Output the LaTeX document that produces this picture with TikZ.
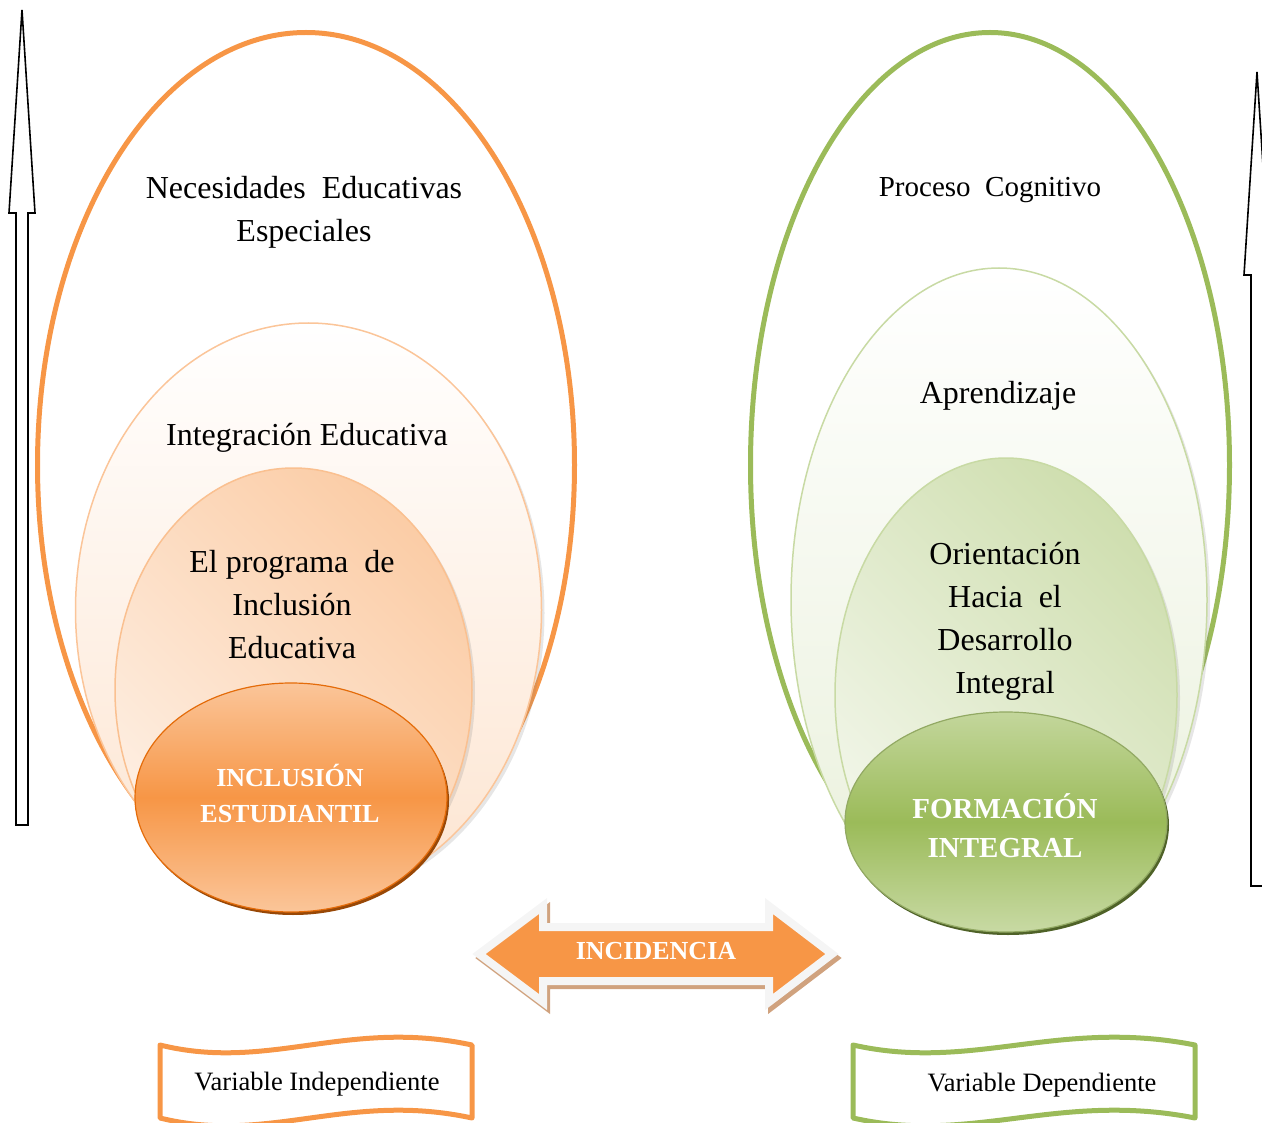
\documentclass[tikz,border=0pt]{standalone}
\usepackage{fontspec}
\setmainfont{Liberation Serif}
\usetikzlibrary{shapes.geometric,shadows}
\definecolor{naranja}{HTML}{F79646}
\definecolor{naranjaosc}{HTML}{E46C0A}
\definecolor{cafe}{HTML}{984807}
\definecolor{verde}{HTML}{9BBB59}
\definecolor{verdeosc}{HTML}{77933C}
\definecolor{musgo}{HTML}{4F6228}
\definecolor{sombra}{RGB}{208,162,126}

\begin{document}
\begin{tikzpicture}[x=1pt, y=-1pt,
  elipse/.style={ellipse, inner sep=0pt},
  texto/.style={font=\fontsize{32}{43}\selectfont, align=center},
  negrita/.style={font=\bfseries\fontsize{26}{36}\selectfont, text=white, align=center},
  flecha/.style={draw=black, line width=1.6pt, fill=white}]
\useasboundingbox (0,0) rectangle (1262,1123);

% flechas verticales
\foreach \x/\a/\b/\c in {22/10/213/825, 1257/72/275/886}
  \draw[flecha] (\x,\a)--(\x+13,\b)--(\x+6,\b)--(\x+6,\c)--(\x-6,\c)--(\x-6,\b)--(\x-13,\b)--cycle;

% variable independiente
\node[elipse, draw=naranja, line width=5pt, minimum width=537pt, minimum height=865pt] (nee) at (306,465) {};
\node[elipse, draw=naranja!55, line width=1.5pt, top color=white, bottom color=naranja!25,
  minimum width=466pt, minimum height=574pt,
  drop shadow={opacity=.2, shadow xshift=3pt, shadow yshift=-3pt}] (integ) at (308.5,610) {};
\node[elipse, draw=naranja!60, line width=1.5pt, bottom color=naranja!15, top color=naranja!48, shading angle=-45,
  minimum width=357pt, minimum height=444pt,
  drop shadow={opacity=.2, shadow xshift=3pt, shadow yshift=-3pt}] (prog) at (293.5,690) {};
\node[elipse, draw=naranjaosc, line width=1.2pt, top color=naranja!55, bottom color=naranja!55, middle color=naranja,
  minimum width=312pt, minimum height=229pt,
  drop shadow={fill=cafe, opacity=1, shadow xshift=2pt, shadow yshift=-3pt}] (incl) at (291,797.5) {};

% variable dependiente
\node[elipse, draw=verde, line width=5pt, minimum width=479pt, minimum height=865pt] (proc) at (990,465) {};
\node[elipse, draw=verde!55, line width=1.5pt, top color=white, bottom color=verde!22,
  minimum width=416pt, minimum height=664pt,
  drop shadow={opacity=.2, shadow xshift=3pt, shadow yshift=-3pt}] (apre) at (999,600) {};
\node[elipse, draw=verde!55, line width=1.5pt, bottom color=verde!12, top color=verde!48, shading angle=-45,
  minimum width=342pt, minimum height=474pt,
  drop shadow={opacity=.2, shadow xshift=3pt, shadow yshift=-3pt}] (orie) at (1006,695) {};
\node[elipse, draw=verdeosc!80, line width=1.2pt, top color=verde!60, bottom color=verde!55, middle color=verde,
  minimum width=322pt, minimum height=220pt,
  drop shadow={fill=musgo, opacity=1, shadow xshift=2pt, shadow yshift=-3pt}] (form) at (1006,822) {};

% textos
\node[texto] (t1) at (304,212) {Necesidades\ \ Educativas\\Especiales};
\node[texto] (t2) at (307,438) {Integración Educativa};
\node[texto] (t3) at (292,605) {El programa\ \ de\\Inclusión\\Educativa};
\node[negrita] (t4) at (290,793) {INCLUSIÓN\\ESTUDIANTIL};
\node[texto, font=\fontsize{29}{38}\selectfont] (t5) at (990,190) {Proceso\ \ Cognitivo};
\node[texto] (t6) at (998,396) {Aprendizaje};
\node[texto] (t7) at (1005,621) {Orientación\\Hacia\ \ el\\Desarrollo\\Integral};
\node[negrita, font=\bfseries\fontsize{29}{39}\selectfont] (t8) at (1005,826) {FORMACIÓN\\INTEGRAL};

% incidencia
\filldraw[sombra, line width=8pt, shift={(3,4)}] (479,954)--(543,906)--(543,927)--(769,927)--(769,906)--(832,954)--(769,1002)--(769,981)--(543,981)--(543,1002)--cycle;
\draw[line width=8pt, draw=gray!8, fill=naranja] (479,954)--(543,906)--(543,927)--(769,927)--(769,906)--(832,954)--(769,1002)--(769,981)--(543,981)--(543,1002)--cycle;
\node[negrita] (inc) at (656,951) {INCIDENCIA};

% banderas
\foreach \x/\w/\col in {160/312/naranja, 853/342/verde}
  \draw[line width=5pt, draw=\col, line join=round] (\x,1045) .. controls (\x+0.35*\w,1072) and (\x+0.6*\w,1018) .. (\x+\w,1045)
    -- (\x+\w,1118) .. controls (\x+0.6*\w,1091) and (\x+0.35*\w,1145) .. (\x,1118) -- cycle;
\node[font=\fontsize{26.5}{30}\selectfont] (vi) at (317,1084) {Variable Independiente};
\node[font=\fontsize{26.5}{30}\selectfont] (vd) at (1042,1085) {Variable Dependiente};

\end{tikzpicture}
\end{document}
